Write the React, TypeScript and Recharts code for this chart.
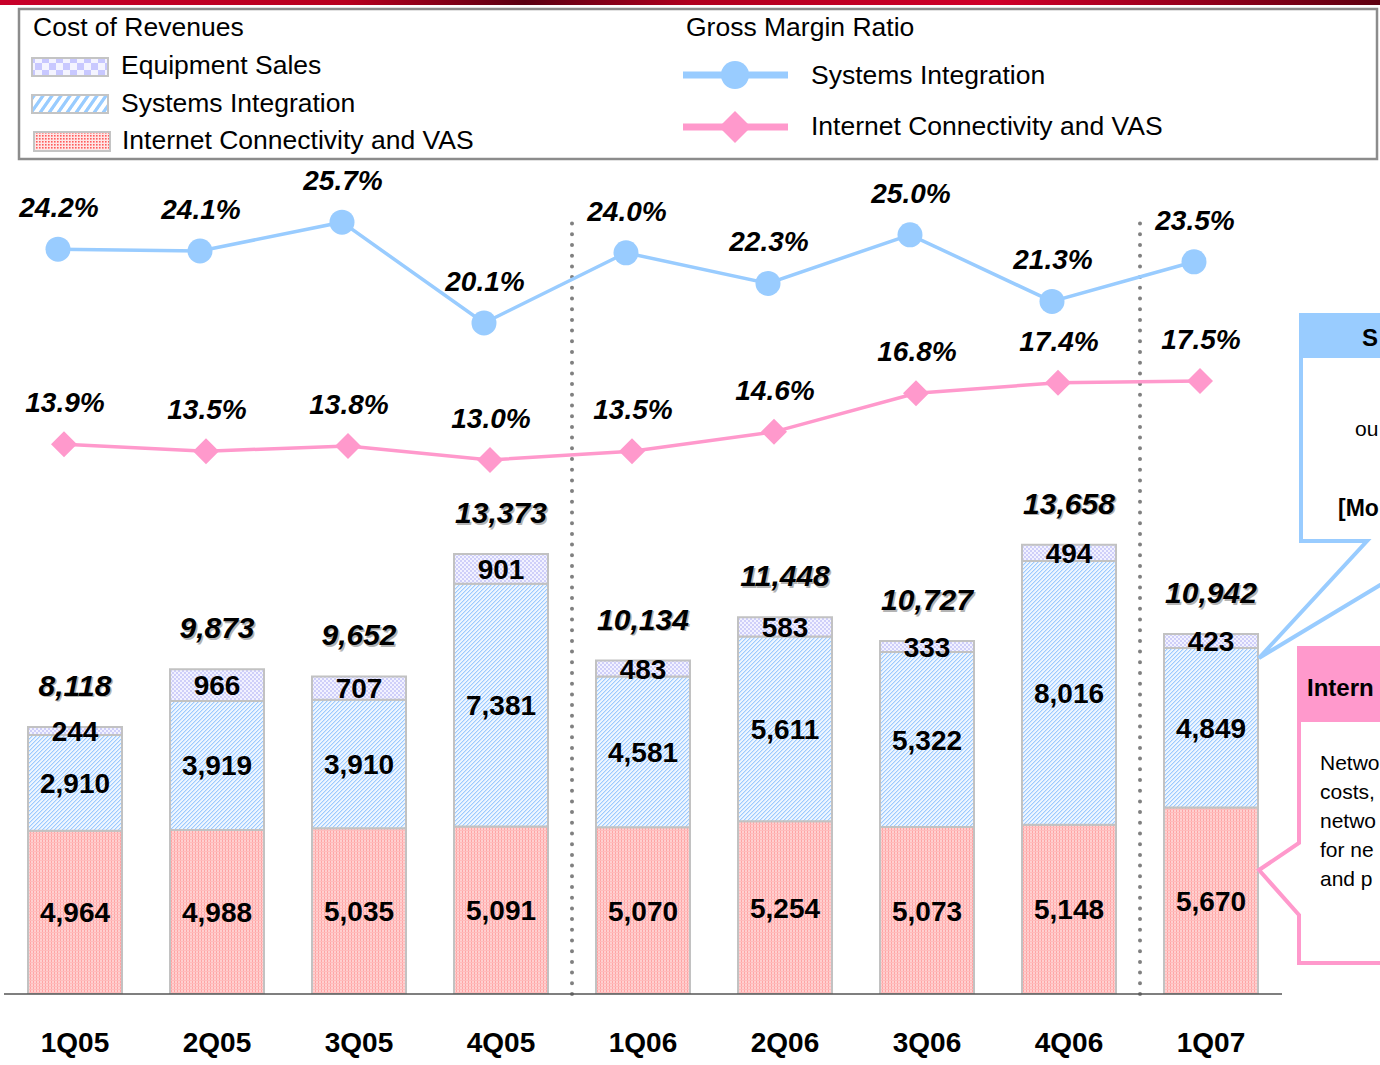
import { ComposedChart, Bar, Line, XAxis, YAxis, LabelList, ReferenceLine } from 'recharts';

const quarters = ['1Q05', '2Q05', '3Q05', '4Q05', '1Q06', '2Q06', '3Q06', '4Q06', '1Q07'];
const internetVas = [4964, 4988, 5035, 5091, 5070, 5254, 5073, 5148, 5670];
const systemsInt = [2910, 3919, 3910, 7381, 4581, 5611, 5322, 8016, 4849];
const equipment = [244, 966, 707, 901, 483, 583, 333, 494, 423];
const totals = [8118, 9873, 9652, 13373, 10134, 11448, 10727, 13658, 10942];
const siMargin = [24.2, 24.1, 25.7, 20.1, 24.0, 22.3, 25.0, 21.3, 23.5];
const icMargin = [13.9, 13.5, 13.8, 13.0, 13.5, 14.6, 16.8, 17.4, 17.5];
const separators = [4, 8];

const data = quarters.map((q, i) => ({
  q,
  idx: i,
  ic: internetVas[i],
  si: systemsInt[i],
  es: equipment[i],
  total: totals[i],
  siM: siMargin[i],
  icM: icMargin[i],
}));

const FONT = '"Liberation Sans", Arial, sans-serif';
const BLUE = '#99ccff';
const PINK = '#ff99cc';

const fmt = (v: number) => v.toLocaleString('en-US');

function box(props: any) {
  const vb = props.viewBox ?? props;
  return { x: Number(vb.x), y: Number(vb.y), w: Number(vb.width || 0), h: Number(vb.height || 0) };
}

const CenterLabel = (props: any) => {
  const { x, y, w, h } = box(props);
  return (
    <text x={x + w / 2} y={y + h / 2 + 10} textAnchor="middle" fontFamily={FONT} fontWeight="bold" fontSize={28} fill="#000">
      {fmt(props.value)}
    </text>
  );
};

const TotalLabel = (props: any) => {
  const { x, y, w } = box(props);
  const cx = x + w / 2;
  const by = y - 31;
  const common = { textAnchor: 'middle' as const, fontFamily: FONT, fontWeight: 'bold', fontStyle: 'italic', fontSize: 30 };
  return (
    <g>
      <text x={cx + 1.5} y={by + 1.5} fill="#b4b4b4" {...common}>{fmt(props.value)}</text>
      <text x={cx} y={by} fill="#000" {...common}>{fmt(props.value)}</text>
    </g>
  );
};

const PctLabel = (props: any) => {
  const { x, y } = box(props);
  return (
    <text x={x + 1} y={y - 32} textAnchor="middle" fontFamily={FONT} fontWeight="bold" fontStyle="italic" fontSize={28} fill="#000">
      {`${Number(props.value).toFixed(1)}%`}
    </text>
  );
};

const Diamond = (p: any) => {
  const { cx, cy } = p;
  if (cx == null || cy == null) return <g key={p.index} />;
  const s = 13;
  return <path key={p.index} d={`M${cx},${cy - s}L${cx + s},${cy}L${cx},${cy + s}L${cx - s},${cy}Z`} fill={PINK} />;
};

const QuarterTick = (p: any) => (
  <text x={p.x} y={p.y + 58} textAnchor="middle" fontFamily={FONT} fontWeight="bold" fontSize={28} fill="#000">
    {p.payload.value}
  </text>
);

function Legend() {
  return (
    <svg style={{ position: 'absolute', left: 0, top: 0 }} width={1380} height={170}>
      <defs>
        <linearGradient id="topBar" x1="0" y1="0" x2="1" y2="0">
          <stop offset="0" stopColor="#c8002a" />
          <stop offset="0.25" stopColor="#b8001f" />
          <stop offset="0.38" stopColor="#5a0012" />
          <stop offset="0.5" stopColor="#b0001f" />
          <stop offset="0.72" stopColor="#d0002a" />
          <stop offset="1" stopColor="#5e0010" />
        </linearGradient>
        <pattern id="lgEs" patternUnits="userSpaceOnUse" width="14" height="14">
          <rect width="14" height="14" fill="#f4f4ff" />
          <rect width="7" height="7" fill="#c8c8ff" />
          <rect x="7" y="7" width="7" height="7" fill="#c8c8ff" />
        </pattern>
        <pattern id="lgSi" patternUnits="userSpaceOnUse" width="9" height="9" patternTransform="skewX(-35)">
          <rect width="9" height="9" fill="#ffffff" />
          <rect width="4" height="9" fill={BLUE} />
        </pattern>
        <pattern id="lgIc" patternUnits="userSpaceOnUse" width="3" height="3">
          <rect width="3" height="3" fill="#ffe6e6" />
          <rect width="1.6" height="1.6" fill="#ff5c5c" />
        </pattern>
      </defs>
      <rect x={0} y={0} width={1380} height={5} fill="url(#topBar)" />
      <rect x={19} y={9} width={1358} height={150} fill="#fff" stroke="#8c8c8c" strokeWidth={2.5} />
      <g fontFamily={FONT} fontSize={26.5} fill="#000">
        <text x={33} y={36}>Cost of Revenues</text>
        <rect x={32} y={58} width={76} height={18} fill="url(#lgEs)" stroke="#c4c4c4" strokeWidth={2} />
        <text x={121} y={74}>Equipment Sales</text>
        <rect x={32} y={95} width={76} height={18} fill="url(#lgSi)" stroke="#c4c4c4" strokeWidth={2} />
        <text x={121} y={112}>Systems Integration</text>
        <rect x={34} y={132} width={76} height={19} fill="url(#lgIc)" stroke="#c4c4c4" strokeWidth={2} />
        <text x={122} y={149}>Internet Connectivity and VAS</text>

        <text x={686} y={36}>Gross Margin Ratio</text>
        <line x1={683} y1={75} x2={788} y2={75} stroke={BLUE} strokeWidth={7} />
        <circle cx={735} cy={75} r={14} fill={BLUE} />
        <text x={811} y={84}>Systems Integration</text>
        <line x1={683} y1={127} x2={788} y2={127} stroke={PINK} strokeWidth={7} />
        <path d="M735,111L751,127L735,143L719,127Z" fill={PINK} />
        <text x={811} y={135}>Internet Connectivity and VAS</text>
      </g>
    </svg>
  );
}

function Callouts() {
  return (
    <svg style={{ position: 'absolute', left: 0, top: 0, pointerEvents: 'none' }} width={1380} height={1065}>
      <rect x={1301} y={315} width={90} height={43} fill={BLUE} />
      <polyline points="1400,315 1301,315 1301,541 1367,541 1259,658 1400,573" fill="none" stroke={BLUE} strokeWidth={4} strokeLinejoin="miter" />
      <g fontFamily={FONT} fill="#000">
        <text x={1362} y={346} fontSize={24} fontWeight="bold">S</text>
        <text x={1355} y={436} fontSize={21}>ou</text>
        <text x={1338} y={516} fontSize={23} fontWeight="bold">[Mo</text>
      </g>
      <rect x={1299} y={648} width={90} height={74} fill={PINK} />
      <polyline points="1400,648 1299,648 1299,843 1259,870 1299,915 1299,963 1400,963" fill="none" stroke={PINK} strokeWidth={4} />
      <g fontFamily={FONT} fill="#000">
        <text x={1307} y={696} fontSize={24} fontWeight="bold">Intern</text>
        <text x={1320} y={770} fontSize={21}>Netwo</text>
        <text x={1320} y={799} fontSize={21}>costs,</text>
        <text x={1320} y={828} fontSize={21}>netwo</text>
        <text x={1320} y={857} fontSize={21}>for ne</text>
        <text x={1320} y={886} fontSize={21}>and p</text>
      </g>
    </svg>
  );
}

export default function App() {
  return (
    <div style={{ position: 'absolute', left: 0, top: 0, width: 1380, height: 1065, overflow: 'hidden', background: '#fff' }}>
      <ComposedChart width={1380} height={1065} data={data} margin={{ top: 170, right: 98, bottom: 0, left: 4 }}>
        <defs>
          <pattern id="barEs" patternUnits="userSpaceOnUse" width="4" height="4">
            <rect width="4" height="4" fill="#f2f2ff" />
            <rect width="2" height="2" fill="#cfcff9" />
            <rect x="2" y="2" width="2" height="2" fill="#cfcff9" />
          </pattern>
          <pattern id="barSi" patternUnits="userSpaceOnUse" width="4" height="4">
            <rect width="4" height="4" fill="#eef6ff" />
            <rect x="0" y="3" width="1" height="1" fill="#9ccaff" />
            <rect x="1" y="2" width="1" height="1" fill="#9ccaff" />
            <rect x="2" y="1" width="1" height="1" fill="#9ccaff" />
            <rect x="3" y="0" width="1" height="1" fill="#9ccaff" />
            <rect x="1" y="3" width="1" height="1" fill="#cfe5ff" />
            <rect x="2" y="2" width="1" height="1" fill="#cfe5ff" />
            <rect x="3" y="1" width="1" height="1" fill="#cfe5ff" />
            <rect x="0" y="0" width="1" height="1" fill="#cfe5ff" />
          </pattern>
          <pattern id="barIc" patternUnits="userSpaceOnUse" width="3" height="3">
            <rect width="3" height="3" fill="#ffd0d0" />
            <rect width="1" height="3" fill="#ffa4a4" />
            <rect y="2" width="3" height="1" fill="#ffbcbc" />
          </pattern>
        </defs>
        <XAxis
          xAxisId="cat"
          dataKey="q"
          type="category"
          height={71}
          interval={0}
          tickLine={false}
          tickSize={0}
          tickMargin={0}
          axisLine={{ stroke: '#555', strokeWidth: 1.5 }}
          tick={<QuarterTick />}
        />
        <XAxis xAxisId="blueX" dataKey="idx" type="number" orientation="top" height={0} domain={[-0.5 + 17 / 142, 8.5 + 17 / 142]} allowDataOverflow hide />
        <XAxis xAxisId="pinkX" dataKey="idx" type="number" orientation="top" height={0} domain={[-0.5 + 11 / 142, 8.5 + 11 / 142]} allowDataOverflow hide />
        <XAxis xAxisId="sep" dataKey="idx" type="number" orientation="top" height={0} domain={[0, 9]} allowDataOverflow hide />
        <YAxis yAxisId="bars" type="number" width={0} domain={[0, 25046]} allowDataOverflow hide />
        <YAxis yAxisId="blue" type="number" width={0} domain={[-17.18, 28.6]} allowDataOverflow hide />
        <YAxis yAxisId="pink" type="number" width={0} domain={[-17.41, 29.51]} allowDataOverflow hide />

        <Bar xAxisId="cat" yAxisId="bars" dataKey="ic" stackId="a" barSize={94} fill="url(#barIc)" stroke="#c2c2c2" strokeWidth={2} isAnimationActive={false}>
          <LabelList dataKey="ic" content={<CenterLabel />} />
        </Bar>
        <Bar xAxisId="cat" yAxisId="bars" dataKey="si" stackId="a" barSize={94} fill="url(#barSi)" stroke="#c2c2c2" strokeWidth={2} isAnimationActive={false}>
          <LabelList dataKey="si" content={<CenterLabel />} />
        </Bar>
        <Bar xAxisId="cat" yAxisId="bars" dataKey="es" stackId="a" barSize={94} fill="url(#barEs)" stroke="#c2c2c2" strokeWidth={2} isAnimationActive={false}>
          <LabelList dataKey="es" content={<CenterLabel />} />
          <LabelList dataKey="total" content={<TotalLabel />} />
        </Bar>

        {separators.map((s) => (
          <ReferenceLine
            key={s}
            xAxisId="sep"
            yAxisId="bars"
            segment={[{ x: s, y: 0 }, { x: s, y: 23590 }]}
            stroke="#808080"
            strokeWidth={4}
            strokeDasharray="0 10.7"
            strokeLinecap="round"
            ifOverflow="visible"
          />
        ))}

        <Line
          xAxisId="blueX"
          yAxisId="blue"
          dataKey="siM"
          stroke={BLUE}
          strokeWidth={3.5}
          dot={{ r: 12.5, fill: BLUE, stroke: 'none' }}
          activeDot={false}
          isAnimationActive={false}
        >
          <LabelList dataKey="siM" content={<PctLabel />} />
        </Line>
        <Line
          xAxisId="pinkX"
          yAxisId="pink"
          dataKey="icM"
          stroke={PINK}
          strokeWidth={3.5}
          dot={<Diamond />}
          activeDot={false}
          isAnimationActive={false}
        >
          <LabelList dataKey="icM" content={<PctLabel />} />
        </Line>
      </ComposedChart>
      <Legend />
      <Callouts />
    </div>
  );
}
